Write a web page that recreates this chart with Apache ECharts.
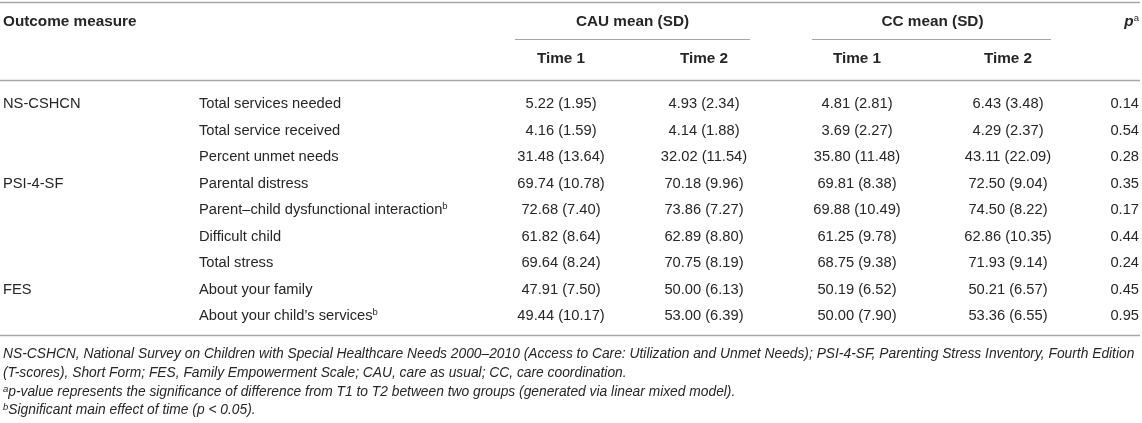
<!DOCTYPE html>
<html>
<head>
<meta charset="utf-8">
<script src="https://cdn.jsdelivr.net/npm/echarts@6/dist/echarts.min.js"></script>
<style>
  html, body { margin: 0; padding: 0; background: #ffffff; }
  #chart { width: 1142px; height: 423px; }
</style>
</head>
<body>
<div id="chart"></div>
<script>
const groups = ['NS-CSHCN', '', '', 'PSI-4-SF', '', '', '', 'FES', ''];
const items = ['Total services needed', 'Total service received', 'Percent unmet needs',
  'Parental distress', 'Parent\u2013child dysfunctional interaction', 'Difficult child',
  'Total stress', 'About your family', 'About your child\u2019s services'];
const itemSup = ['', '', '', '', 'b', '', '', '', 'b'];
const cauT1 = [[5.22, 1.95], [4.16, 1.59], [31.48, 13.64], [69.74, 10.78], [72.68, 7.40], [61.82, 8.64], [69.64, 8.24], [47.91, 7.50], [49.44, 10.17]];
const cauT2 = [[4.93, 2.34], [4.14, 1.88], [32.02, 11.54], [70.18, 9.96], [73.86, 7.27], [62.89, 8.80], [70.75, 8.19], [50.00, 6.13], [53.00, 6.39]];
const ccT1 = [[4.81, 2.81], [3.69, 2.27], [35.80, 11.48], [69.81, 8.38], [69.88, 10.49], [61.25, 9.78], [68.75, 9.38], [50.19, 6.52], [50.00, 7.90]];
const ccT2 = [[6.43, 3.48], [4.29, 2.37], [43.11, 22.09], [72.50, 9.04], [74.50, 8.22], [62.86, 10.35], [71.93, 9.14], [50.21, 6.57], [53.36, 6.55]];
const pValues = [0.14, 0.54, 0.28, 0.35, 0.17, 0.44, 0.24, 0.45, 0.95];

const headerMain = 'Outcome measure';
const headerGroups = ['CAU mean (SD)', 'CC mean (SD)'];
const headerTimes = ['Time 1', 'Time 2', 'Time 1', 'Time 2'];
const footnotes = [
  'NS-CSHCN, National Survey on Children with Special Healthcare Needs 2000\u20132010 (Access to Care: Utilization and Unmet Needs); PSI-4-SF, Parenting Stress Inventory, Fourth Edition',
  '(T-scores), Short Form; FES, Family Empowerment Scale; CAU, care as usual; CC, care coordination.',
  'p-value represents the significance of difference from T1 to T2 between two groups (generated via linear mixed model).',
  'Significant main effect of time (p < 0.05).'
];
const footnoteSup = ['', '', 'a', 'b'];

// ---- layout / style (kept separate from data) ----
const W = 1142;
const FONT = '"Liberation Sans", Arial, Helvetica, sans-serif';
const TXT = '#262626';
const RULE = '#a6a6a6';
const BODY = 14.7, HEAD = 15.3, FOOT = 13.8;
const colX = [3, 199, 561, 704, 857, 1008, 1139];
const colAlign = ['left', 'left', 'center', 'center', 'center', 'center', 'right'];
const fmt = (v) => v[0].toFixed(2) + ' (' + v[1].toFixed(2) + ')';

const rowNames = items.map((_, i) => 'r' + i);
const rowData = items.map((_, i) => [0, i]);

function cellTexts(i) {
  return [
    groups[i],
    itemSup[i] ? '{n|' + items[i] + '}{s|' + itemSup[i] + '}' : '{n|' + items[i] + '}',
    fmt(cauT1[i]), fmt(cauT2[i]), fmt(ccT1[i]), fmt(ccT2[i]),
    pValues[i].toFixed(2)
  ];
}

const rich = {
  n: { fontSize: BODY, fontFamily: FONT, fill: TXT, lineHeight: 17 },
  s: { fontSize: 9.5, fontFamily: FONT, fill: TXT, lineHeight: 10, verticalAlign: 'top' }
};

const chart = echarts.init(document.getElementById('chart'), null, { renderer: 'canvas' });

function hline(x1, x2, y, w) {
  return { type: 'line', shape: { x1: x1, y1: y, x2: x2, y2: y }, style: { stroke: RULE, lineWidth: w || 1.5 }, silent: true };
}
function txt(x, y, text, align, extra) {
  return {
    type: 'text', x: x, y: y, silent: true,
    style: Object.assign({ text: text, align: align, verticalAlign: 'middle', fontFamily: FONT, fontSize: BODY, fill: TXT }, extra || {})
  };
}

const graphics = [
  hline(0, 1140, 2.5),
  txt(colX[0], 22, headerMain, 'left', { fontWeight: 'bold', fontSize: HEAD }),
  txt((colX[2] + colX[3]) / 2, 22, headerGroups[0], 'center', { fontWeight: 'bold', fontSize: HEAD }),
  txt((colX[4] + colX[5]) / 2, 22, headerGroups[1], 'center', { fontWeight: 'bold', fontSize: HEAD }),
  txt(colX[6], 22, '{p|p}{a|a}', 'right', {
    rich: {
      p: { fontSize: HEAD, fontFamily: FONT, fontWeight: 'bold', fontStyle: 'italic', fill: TXT, lineHeight: 17 },
      a: { fontSize: 9.5, fontFamily: FONT, fill: TXT, lineHeight: 10, verticalAlign: 'top' }
    }
  }),
  hline(515, 750, 39.5, 1.2),
  hline(812, 1051, 39.5, 1.2),
  txt(colX[2], 59, headerTimes[0], 'center', { fontWeight: 'bold', fontSize: HEAD }),
  txt(colX[3], 59, headerTimes[1], 'center', { fontWeight: 'bold', fontSize: HEAD }),
  txt(colX[4], 59, headerTimes[2], 'center', { fontWeight: 'bold', fontSize: HEAD }),
  txt(colX[5], 59, headerTimes[3], 'center', { fontWeight: 'bold', fontSize: HEAD }),
  hline(0, 1140, 80.5),
  hline(0, 1140, 335.5)
];
const footY = [354, 373, 392, 410];
footnotes.forEach((f, k) => {
  const t = footnoteSup[k] ? '{s|' + footnoteSup[k] + '}{n|' + f + '}' : '{n|' + f + '}';
  graphics.push(txt(3, footY[k], t, 'left', {
    rich: {
      n: { fontSize: FOOT, fontFamily: FONT, fontStyle: 'italic', fill: TXT, lineHeight: 16 },
      s: { fontSize: 9.5, fontFamily: FONT, fontStyle: 'italic', fill: TXT, lineHeight: 10, verticalAlign: 'top' }
    }
  }));
});

chart.setOption({
  animation: false,
  backgroundColor: '#ffffff',
  grid: { left: 0, right: 0, top: 90.75, bottom: 93.75 },
  xAxis: { type: 'value', min: 0, max: W, show: false },
  yAxis: { type: 'category', data: rowNames, inverse: true, show: false },
  graphic: graphics,
  series: [{
    type: 'custom',
    coordinateSystem: 'cartesian2d',
    data: rowData,
    clip: false,
    renderItem: function (params, api) {
      const i = params.dataIndex;
      const texts = cellTexts(i);
      const children = texts.map(function (t, c) {
        const pt = api.coord([colX[c], api.value(1)]);
        return {
          type: 'text',
          x: pt[0], y: pt[1],
          style: {
            text: t, align: colAlign[c], verticalAlign: 'middle',
            fontFamily: FONT, fontSize: BODY, fill: TXT,
            rich: c === 1 ? rich : undefined
          }
        };
      });
      return { type: 'group', children: children };
    }
  }]
});
</script>
</body>
</html>
